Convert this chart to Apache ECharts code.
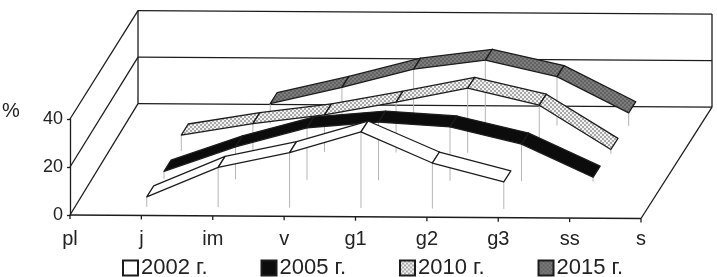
<!DOCTYPE html>
<html><head><meta charset="utf-8">
<script src="https://cdn.jsdelivr.net/npm/echarts@6/dist/echarts.min.js"></script>
<style>html,body{margin:0;padding:0;background:#fff}#c{width:717px;height:277px}</style>
</head><body><div id="c"></div>
<script>
const categories = ['pl','j','im','v','g1','g2','g3','ss','s'];
const yTicks = [0,20,40];
const values2002 = [null,4.1,16.6,23,31.8,19,11.3,null,null];
const values2005 = [null,3.2,13.7,21.9,24.5,22.6,15.6,1.8,null];
const values2010 = [null,6.8,11.8,15.7,21.3,27.4,20.4,1.8,null];
const values2015 = [null,null,8.6,15.7,23.7,27.7,20.9,5.6,null];
const seriesNames = ['2002 г.','2005 г.','2010 г.','2015 г.'];

const INK = '#1c1c1c';
const DROP = '#b5b5b5';
const DEPTH_Y = 111.3, TILT = 3.5/571, SHRINK = 0.03;
const SLOT0 = 0.078, SLOT = 0.25, RIBBON = 0.1;

function pattern(fg, bg, size) {
  const c = document.createElement('canvas');
  c.width = c.height = size * 2;
  const g = c.getContext('2d');
  g.fillStyle = bg; g.fillRect(0,0,size*2,size*2);
  g.fillStyle = fg; g.fillRect(0,0,size,size); g.fillRect(size,size,size,size);
  return {image:c, repeat:'repeat'};
}
const fills = ['#ffffff','#0c0c0c',pattern('#a8a8a8','#f2f2f2',2),pattern('#626262','#7c7c7c',2)];

function proj(api, cat, val, d, dxScale) {
  const p = api.coord([cat,val]);
  const base = api.coord([0,0]);
  const floorY = api.coord([cat,0])[1];
  const t = (p[0]-base[0])/571;
  const dx = 68 + 3*t;
  const h = floorY - p[1];
  return [p[0] + dx*d*dxScale, floorY - h*(1 - SHRINK*d) - DEPTH_Y*d + TILT*(p[0]-base[0])];
}
function seg(a,b,w,col,z2){
  return {type:'line',z2:z2||0,silent:true,shape:{x1:a[0],y1:a[1],x2:b[0],y2:b[1]},style:{stroke:col||INK,lineWidth:w||1.3}};
}
function renderFrame(params, api){
  const last = categories.length-1, top = yTicks[yTicks.length-1];
  const kids = [];
  yTicks.forEach(v=>{
    kids.push(seg(proj(api,0,v,0,1),proj(api,0,v,1,1)));
    kids.push(seg(proj(api,0,v,1,1),proj(api,last,v,1,1)));
  });
  kids.push(seg(proj(api,0,0,1,1),proj(api,0,top,1,1)));
  kids.push(seg(proj(api,last,0,1,1),proj(api,last,top,1,1)));
  kids.push(seg(proj(api,last,0,0,1),proj(api,last,0,1,1)));
  kids.push(seg(proj(api,0,0,0,1),proj(api,last,0,0,1)));
  categories.forEach((c,i)=>{
    const p = proj(api,i,0,0,1);
    kids.push(seg(p,[p[0],p[1]+4]));
  });
  return {type:'group',children:kids};
}
function ribbon(values, slot){
  const d0 = SLOT0 + SLOT*slot, s = 1.01;
  return function(params, api){
    const i = api.value(0), v = api.value(1);
    const kids = [];
    const a = proj(api,i,v,d0,s);
    kids.push(seg(a,proj(api,i,0,d0,s),1,DROP,0));
    const nx = values[i+1];
    if (nx!=null){
      const a2 = proj(api,i,v,d0+RIBBON,s);
      const b = proj(api,i+1,nx,d0,s), b2 = proj(api,i+1,nx,d0+RIBBON,s);
      kids.push({type:'polygon',z2:2,silent:true,shape:{points:[a,b,b2,a2]},
        style:{fill:fills[slot],stroke:INK,lineWidth:1.3,lineJoin:'round'}});
    }
    return {type:'group',children:kids};
  };
}
function seriesOf(values, slot){
  return {
    type:'custom', name:seriesNames[slot], coordinateSystem:'cartesian2d',
    z:10-slot, clip:false, silent:true,
    itemStyle:{color:fills[slot],borderColor:INK,borderWidth:1.3},
    encode:{x:0,y:1},
    renderItem:ribbon(values,slot),
    data:values.map((v,i)=>[i,v]).filter(r=>r[1]!=null)
  };
}
const chart = echarts.init(document.getElementById('c'),null,{renderer:'canvas'});
chart.setOption({
  animation:false, backgroundColor:'#fff',
  textStyle:{fontFamily:'Liberation Sans',color:'#222'},
  grid:{left:70,right:76,top:119,bottom:62,containLabel:false},
  xAxis:{type:'category',data:categories,boundaryGap:false,
    axisLine:{show:false},axisTick:{show:false},splitLine:{show:false},
    axisLabel:{fontSize:20,color:'#222',margin:14,interval:0,fontFamily:'Liberation Sans'}},
  yAxis:{type:'value',min:0,max:40,interval:20,
    axisLine:{show:true,lineStyle:{color:INK,width:1.3}},
    axisTick:{show:true,length:3,lineStyle:{color:INK,width:1.3}},
    splitLine:{show:false},
    axisLabel:{fontSize:18,color:'#222',margin:7,fontFamily:'Liberation Sans'}},
  legend:{left:117,top:252,itemWidth:15,itemHeight:15,itemGap:53,icon:'rect',
    selectedMode:false,
    textStyle:{fontSize:22,color:'#222',fontFamily:'Liberation Sans',padding:[0,0,0,-2]},
    data:seriesNames},
  graphic:[{type:'text',left:2,top:101,silent:true,style:{text:'%',fontSize:20,fill:'#222',fontFamily:'Liberation Sans'}}],
  series:[
    {type:'custom',name:'frame',coordinateSystem:'cartesian2d',z:1,clip:false,silent:true,
     renderItem:renderFrame,data:[[0,0]],encode:{x:0,y:1}},
    seriesOf(values2002,0),seriesOf(values2005,1),seriesOf(values2010,2),seriesOf(values2015,3)
  ]
});
</script></body></html>
